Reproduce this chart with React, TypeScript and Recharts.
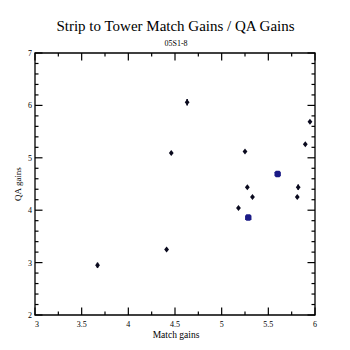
import React from "react";
import { ScatterChart, Scatter, XAxis, YAxis, ErrorBar, ReferenceArea } from "recharts";

const W = 350;
const H = 350;
const X_AXIS_H = 20;
const Y_AXIS_W = 20;
const MARGIN = { top: 53, right: 35, bottom: 35 - X_AXIS_H, left: 35 - Y_AXIS_W };
const PLOT_TOP = 53;
const PLOT_BOTTOM = H - 35;
const PLOT_LEFT = 35;
const PLOT_RIGHT = W - 35;

const FONT = "'Liberation Serif', 'DejaVu Serif', serif";

// Black points: match gains (x), QA gains (y), vertical error
const blackX = [3.67, 4.41, 4.46, 4.63, 5.18, 5.25, 5.275, 5.33, 5.81, 5.82, 5.896, 5.946];
const blackY = [2.95, 3.25, 5.09, 6.06, 4.04, 5.12, 4.44, 4.25, 4.25, 4.44, 5.26, 5.69];
const blackErr = [0.05, 0, 0, 0.06, 0, 0, 0, 0, 0, 0.05, 0, 0];

// Blue (highlighted) points
const blueX = [5.285, 5.6];
const blueY = [3.86, 4.69];

const xTicks = [3, 3.25, 3.5, 3.75, 4, 4.25, 4.5, 4.75, 5, 5.25, 5.5, 5.75, 6];
const xMajorLabels: Record<string, string> = { "3": "3", "3.5": "3.5", "4": "4", "4.5": "4.5", "5": "5", "5.5": "5.5", "6": "6" };
const yTicks = [2, 2.2, 2.4, 2.6, 2.8, 3, 3.2, 3.4, 3.6, 3.8, 4, 4.2, 4.4, 4.6, 4.8, 5, 5.2, 5.4, 5.6, 5.8, 6, 6.2, 6.4, 6.6, 6.8, 7];
const yMajorLabels: Record<string, string> = { "2": "2", "3": "3", "4": "4", "5": "5", "6": "6", "7": "7" };

const blackData = blackX.map((x, i) => ({ x, y: blackY[i], err: blackErr[i] }));
const blueData = blueX.map((x, i) => ({ x, y: blueY[i] }));

const renderXTick = (props: any) => {
  const { x, payload } = props;
  const key = String(payload.value);
  const label = xMajorLabels[key];
  const len = label !== undefined ? 7.5 : 3.5;
  return (
    <g key={`xt-${key}`}>
      <line x1={x} x2={x} y1={PLOT_BOTTOM} y2={PLOT_BOTTOM - len} stroke="#000" strokeWidth={1.2} />
      <line x1={x} x2={x} y1={PLOT_TOP} y2={PLOT_TOP + len} stroke="#000" strokeWidth={1.2} />
      {label !== undefined && (
        <text x={key === "3" ? x + 2 : x} y={PLOT_BOTTOM + 11.5} textAnchor="middle" fontSize={8} fontFamily={FONT} fill="#000">
          {label}
        </text>
      )}
    </g>
  );
};

const renderYTick = (props: any) => {
  const { y, payload } = props;
  const key = String(payload.value);
  const label = yMajorLabels[key];
  const len = label !== undefined ? 7.5 : 3.5;
  return (
    <g key={`yt-${key}`}>
      <line x1={PLOT_LEFT} x2={PLOT_LEFT + len} y1={y} y2={y} stroke="#000" strokeWidth={1.2} />
      <line x1={PLOT_RIGHT} x2={PLOT_RIGHT - len} y1={y} y2={y} stroke="#000" strokeWidth={1.2} />
      {label !== undefined && (
        <text x={PLOT_LEFT - 3} y={y + 3} textAnchor="end" fontSize={8} fontFamily={FONT} fill="#000">
          {label}
        </text>
      )}
    </g>
  );
};

const BlackMarker = (props: any) => {
  const { cx, cy } = props;
  if (cx == null || cy == null) return null;
  return (
    <polygon
      points={`${cx},${cy - 3} ${cx + 2.4},${cy} ${cx},${cy + 3} ${cx - 2.4},${cy}`}
      fill="#0a0a1e"
      stroke="none"
    />
  );
};

const BlueMarker = (props: any) => {
  const { cx, cy } = props;
  if (cx == null || cy == null) return null;
  const a = 3.2;
  const b = 1.8;
  return (
    <polygon
      points={`${cx - b},${cy - a} ${cx + b},${cy - a} ${cx + a},${cy - b} ${cx + a},${cy + b} ${cx + b},${cy + a} ${cx - b},${cy + a} ${cx - a},${cy + b} ${cx - a},${cy - b}`}
      fill="#1a1a86"
      stroke="none"
    />
  );
};

export default function App() {
  return (
    <div style={{ position: "absolute", left: 0, top: 0, width: W, height: H, background: "#fff" }}>
      <ScatterChart width={W} height={H} margin={MARGIN}>
        <XAxis
          type="number"
          dataKey="x"
          domain={[3, 6]}
          ticks={xTicks}
          interval={0}
          height={X_AXIS_H}
          axisLine={false}
          tickLine={false}
          tick={renderXTick}
          allowDataOverflow
        />
        <YAxis
          type="number"
          dataKey="y"
          domain={[2, 7]}
          ticks={yTicks}
          interval={0}
          width={Y_AXIS_W}
          axisLine={false}
          tickLine={false}
          tick={renderYTick}
          allowDataOverflow
        />
        <ReferenceArea x1={3} x2={6} y1={2} y2={7} fill="none" fillOpacity={0} stroke="#000" strokeWidth={1.3} ifOverflow="visible" />
        <Scatter data={blackData} shape={<BlackMarker />} isAnimationActive={false}>
          <ErrorBar dataKey="err" direction="y" width={0} stroke="#0a0a1e" strokeWidth={1.6} isAnimationActive={false} />
        </Scatter>
        <Scatter data={blueData} shape={<BlueMarker />} isAnimationActive={false} />
      </ScatterChart>
      <svg width={W} height={H} style={{ position: "absolute", left: 0, top: 0, pointerEvents: "none" }}>
        <text x={175.5} y={31} textAnchor="middle" fontSize={15} fontFamily={FONT} fill="#000">
          Strip to Tower Match Gains / QA Gains
        </text>
        <text x={176} y={46} textAnchor="middle" fontSize={8} fontFamily={FONT} fill="#000">
          05S1-8
        </text>
        <text x={176} y={337.5} textAnchor="middle" fontSize={9.5} fontFamily={FONT} fill="#000">
          Match gains
        </text>
        <text x={21} y={184} textAnchor="middle" fontSize={9} fontFamily={FONT} fill="#000" transform="rotate(-90 21 184)">
          QA gains
        </text>
      </svg>
    </div>
  );
}
